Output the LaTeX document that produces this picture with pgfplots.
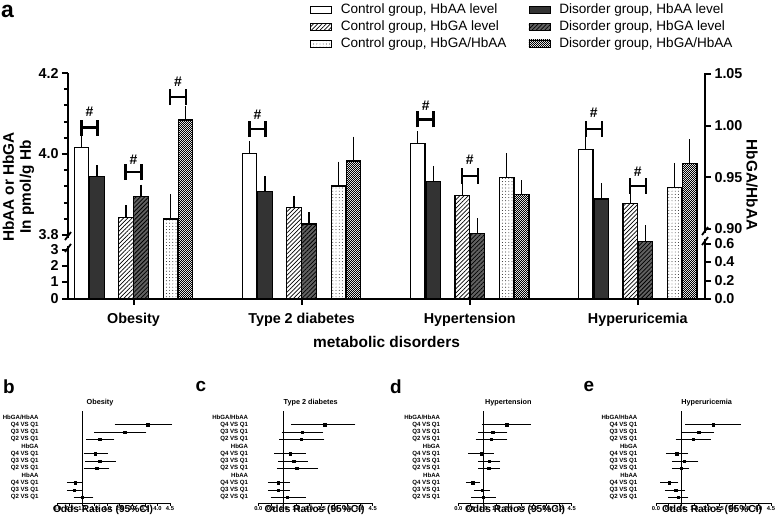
\documentclass[border=0pt]{standalone}
\usepackage{fontspec}
\setmainfont{Liberation Sans}
\usepackage{pgfplots}
\usepackage{pgfplotstable}
\pgfplotsset{compat=1.18}
\usetikzlibrary{patterns,patterns.meta}

\pgfdeclarepatternformonly{finecheck}{\pgfqpoint{0pt}{0pt}}{\pgfqpoint{2.4pt}{2.4pt}}{\pgfqpoint{2.4pt}{2.4pt}}{%
  \pgfpathrectangle{\pgfqpoint{0pt}{0pt}}{\pgfqpoint{1.2pt}{1.2pt}}%
  \pgfpathrectangle{\pgfqpoint{1.2pt}{1.2pt}}{\pgfqpoint{1.2pt}{1.2pt}}%
  \pgfusepath{fill}}

% forest plot data: row, odds ratio, lower, upper
\pgfplotstableread{
row or lo hi
11 3.60 2.39 4.49
10 2.68 1.58 3.46
9 1.69 1.25 2.18
7 1.51 1.15 1.92
6 1.69 1.21 2.23
5 1.58 1.15 1.98
3 0.71 0.48 0.92
2 0.67 0.48 0.88
1 1.00 0.75 1.34
}\tabB
\pgfplotstableread{
row or lo hi
11 2.60 1.40 3.72
10 1.73 1.02 2.45
9 1.68 0.92 2.50
7 1.25 0.72 1.77
6 1.39 0.89 1.84
5 1.52 0.83 2.25
3 0.79 0.47 1.13
2 0.79 0.47 1.13
1 1.13 0.58 1.76
}\tabC
\pgfplotstableread{
row or lo hi
11 1.92 1.03 2.78
10 1.36 0.89 1.85
9 1.31 0.79 1.85
7 0.93 0.49 1.30
6 1.23 0.89 1.56
5 1.20 0.89 1.55
3 0.57 0.40 0.77
2 0.95 0.73 1.16
1 0.99 0.62 1.38
}\tabD
\pgfplotstableread{
row or lo hi
11 2.24 1.24 3.22
10 1.66 1.10 2.18
9 1.46 0.87 2.05
7 0.81 0.48 1.16
6 1.11 0.72 1.56
5 0.98 0.72 1.20
3 0.52 0.26 0.78
2 0.76 0.44 1.04
1 0.87 0.57 1.17
}\tabE

\pgfplotsset{
  leg/.style={legend image code/.code={\draw[##1,draw=black,line width=0.8bp] (0bp,-3.5bp) rectangle (21bp,3.5bp);}},
  cA/.style={draw=black, line width=1.2bp, fill=white},
  dA/.style={draw=black, line width=1.2bp, fill=black!80},
  cG/.style={draw=black, line width=1.2bp, fill=white, postaction={pattern={Lines[angle=45,distance=3bp,line width=0.7bp]}}},
  dG/.style={draw=black, line width=1.2bp, fill=black!62, postaction={pattern={Lines[angle=45,distance=3bp,line width=0.8bp]}}},
  cR/.style={draw=black, line width=1.2bp, fill=white, postaction={pattern={Dots[distance=3.2bp,radius=0.45bp]}}},
  dR/.style={draw=black, line width=1.2bp, fill=white, postaction={pattern=finecheck}},
  topax/.style={at={(68bp,225bp)}, anchor=south west, scale only axis,
    width=637bp, height=226bp, xmin=-0.39, xmax=3.40,
    ybar, bar width=14.5bp, clip mode=individual,
    tick align=outside, major tick length=6bp, minor tick length=4bp,
    tick style={line width=2bp, black},
    axis line style={line width=2.2bp, -},
    ticklabel style={font=\fontsize{14.4}{17}\selectfont\bfseries},
    error bars/y dir=plus, error bars/y explicit,
    error bars/error bar style={line width=1.3bp, black},
    error bars/error mark options={line width=1.3bp, mark size=3.5bp, black}},
  forest/.style={anchor=south west, scale only axis, height=92bp,
    xmin=0, xmax=4.5, ymin=0.207, ymax=12.9,
    axis x line*=bottom, axis y line*=left,
    y axis line style={draw=none}, x axis line style={line width=0.9bp, -},
    xtick={0,0.5,1,1.5,2,2.5,3,3.5,4,4.5},
    xticklabels={0.0,0.5,1.0,1.5,2.0,2.5,3.0,3.5,4.0,4.5},
    xtick style={line width=0.9bp, black},
    ytick={1,2,3,4,5,6,7,8,9,10,11,12},
    yticklabels={Q2 VS Q1,Q3 VS Q1,Q4 VS Q1,HbAA,Q2 VS Q1,Q3 VS Q1,Q4 VS Q1,HbGA,Q2 VS Q1,Q3 VS Q1,Q4 VS Q1,HbGA/HbAA},
    ytick style={draw=none},
    tick align=outside, major tick length=2.5bp,
    xticklabel style={font=\fontsize{5.8}{6}\selectfont\bfseries, inner sep=0.8bp},
    yticklabel style={font=\fontsize{6.1}{7}\selectfont\bfseries, inner sep=0bp},
    clip=false},
  fplot/.style={black, only marks, mark=square*, mark size=1.3bp,
    error bars/.cd, x dir=both, x explicit,
    error bar style={line width=0.9bp},
    error mark options={line width=0.9bp, mark size=2.5bp}},
}

\newcommand\sig[3]{%
  \draw[line width=2.4bp] ([xshift=-8bp,yshift=-8bp]axis cs:#1,#2) -- ++(0bp,16bp)
    ([xshift=-8bp]axis cs:#1,#2) -- ([xshift=8bp]axis cs:#1,#2)
    ([xshift=8bp,yshift=-8bp]axis cs:#1,#2) -- ++(0bp,16bp);
  \node[font=\fontsize{14}{14}\selectfont\bfseries] at (axis cs:#1,#3) {\#};}

\begin{document}
\begin{tikzpicture}
\useasboundingbox (0bp,0bp) rectangle (777bp,524bp);

% ---------- panel a, left axis ----------
\begin{axis}[topax,
  ymin=3.642, ymax=4.2,
  axis x line*=bottom, axis y line*=left,
  xtick={0,1,2,3},
  xticklabels={Obesity,Type 2 diabetes,Hypertension,Hyperuricemia},
  xticklabel style={yshift=-5bp},
  ytick={3.642,3.6847,3.7242,3.763,3.8,4.0,4.2},
  yticklabels={0,1,2,3,3.8,4.0,4.2},
  minor ytick={3.84,3.88,3.92,3.96,4.04,4.08,4.12,4.16},
  legend columns=2, legend cell align=left,
  legend style={at={(0.375,1.323)}, anchor=north west, draw=none, fill=none,
    font=\fontsize{13.6}{16}\selectfont, row sep=1.5bp,
    /tikz/every odd column/.append style={column sep=7bp},
    /tikz/every even column/.append style={column sep=20bp}},
]
\addplot[cA, leg, bar shift=-52bp] coordinates {(0,4.016) +- (0,0.021) (1,4.002) +- (0,0.022) (2,4.026) +- (0,0.021) (3,4.012) +- (0,0.021)};
\addlegendentry{Control group, HbAA level}
\addplot[dA, leg, bar shift=-36.5bp] coordinates {(0,3.944) +- (0,0.019) (1,3.907) +- (0,0.030) (2,3.932) +- (0,0.030) (3,3.889) +- (0,0.030)};
\addlegendentry{Disorder group, HbAA level}
\addplot[cG, leg, bar shift=-7.5bp] coordinates {(0,3.844) +- (0,0.021) (1,3.867) +- (0,0.021) (2,3.897) +- (0,0.021) (3,3.877) +- (0,0.020)};
\addlegendentry{Control group, HbGA level}
\addplot[dG, leg, bar shift=7.5bp] coordinates {(0,3.896) +- (0,0.020) (1,3.827) +- (0,0.020) (2,3.803) +- (0,0.030) (3,3.783) +- (0,0.032)};
\addlegendentry{Disorder group, HbGA level}
\addlegendimage{cR, leg}
\addlegendentry{Control group, HbGA/HbAA}
\addlegendimage{dR, leg}
\addlegendentry{Disorder group, HbGA/HbAA}
% axis break
\fill[white] ([xshift=-3bp]axis cs:-0.39,3.7735) rectangle ([xshift=3bp]axis cs:-0.39,3.7920);
\draw[line width=1.8bp] ([xshift=-3bp,yshift=-4bp]axis cs:-0.39,3.7975) -- ++(6bp,8bp);
\draw[line width=1.8bp] ([xshift=-3bp,yshift=-4bp]axis cs:-0.39,3.768) -- ++(6bp,8bp);
% significance
\sig{-0.262}{4.0654}{4.1037}
\sig{0}{3.9556}{3.985}
\sig{0.265}{4.1407}{4.1778}
\sig{0.738}{4.0617}{4.0963}
\sig{1.738}{4.0852}{4.1185}
\sig{2}{3.9457}{3.9852}
\sig{2.738}{4.0617}{4.1012}
\sig{3}{3.921}{3.9556}
\end{axis}

% ---------- panel a, right axis ----------
\begin{axis}[topax,
  ymin=0.8322, ymax=1.051,
  axis x line=none, axis y line*=right,
  ytick={0.8322,0.8501,0.8680,0.8859,0.90,0.95,1.00,1.05},
  yticklabels={0.0,0.2,0.4,0.6,0.90,0.95,1.00,1.05},
]
\addplot[cR, bar shift=37bp] coordinates {(0,0.9096) +- (0,0.0206) (1,0.9416) +- (0,0.0203) (2,0.950) +- (0,0.0199) (3,0.9403) +- (0,0.0203)};
\addplot[dR, bar shift=52bp] coordinates {(0,1.0055) +- (0,0.0104) (1,0.9658) +- (0,0.0203) (2,0.9335) +- (0,0.0103) (3,0.9636) +- (0,0.0199)};
\fill[white] ([xshift=-3bp]axis cs:3.40,0.8903) rectangle ([xshift=3bp]axis cs:3.40,0.8961);
\draw[line width=1.8bp] ([xshift=-3bp,yshift=-4bp]axis cs:3.40,0.8980) -- ++(6bp,8bp);
\draw[line width=1.8bp] ([xshift=-3bp,yshift=-4bp]axis cs:3.40,0.8883) -- ++(6bp,8bp);
\end{axis}

\node[font=\fontsize{23}{23}\selectfont\bfseries] at (7.5bp,512.5bp) {a};
\node[rotate=90, align=center, font=\fontsize{15.4}{17}\selectfont\bfseries] at (18.5bp,337bp) {HbAA or HbGA\\In pmol/g Hb};
\node[rotate=-90, font=\fontsize{15.4}{17}\selectfont\bfseries] at (752bp,339bp) {HbGA/HbAA};
\node[font=\fontsize{15.5}{17}\selectfont\bfseries] at (386.5bp,182.3bp) {metabolic disorders};

% ---------- panels b-e ----------
\begin{axis}[forest, at={(57.3bp,21bp)}, width=112.7bp, yticklabel style={xshift=-16bp}]
\draw[line width=1bp] (axis cs:1,0.207) -- (axis cs:1,12.9);
\addplot[fplot] table[x=or, y=row, x error plus expr=\thisrow{hi}-\thisrow{or}, x error minus expr=\thisrow{or}-\thisrow{lo}] {\tabB};
\end{axis}
\begin{axis}[forest, at={(258.3bp,21bp)}, width=114.4bp, yticklabel style={xshift=-7.5bp}]
\draw[line width=1bp] (axis cs:1,0.207) -- (axis cs:1,12.9);
\addplot[fplot] table[x=or, y=row, x error plus expr=\thisrow{hi}-\thisrow{or}, x error minus expr=\thisrow{or}-\thisrow{lo}] {\tabC};
\end{axis}
\begin{axis}[forest, at={(458.3bp,21bp)}, width=113.4bp, yticklabel style={xshift=-15.5bp}]
\draw[line width=1bp] (axis cs:1,0.207) -- (axis cs:1,12.9);
\addplot[fplot] table[x=or, y=row, x error plus expr=\thisrow{hi}-\thisrow{or}, x error minus expr=\thisrow{or}-\thisrow{lo}] {\tabD};
\end{axis}
\begin{axis}[forest, at={(656bp,21bp)}, width=115bp, yticklabel style={xshift=-16bp}]
\draw[line width=1bp] (axis cs:1,0.207) -- (axis cs:1,12.9);
\addplot[fplot] table[x=or, y=row, x error plus expr=\thisrow{hi}-\thisrow{or}, x error minus expr=\thisrow{or}-\thisrow{lo}] {\tabE};
\end{axis}

\begin{scope}[every node/.style={font=\fontsize{7.3}{8}\selectfont\bfseries}]
\node at (100bp,121bp) {Obesity};
\node at (310.7bp,121bp) {Type 2 diabetes};
\node at (508.3bp,121bp) {Hypertension};
\node at (706.7bp,121bp) {Hyperuricemia};
\end{scope}
\begin{scope}[every node/.style={font=\fontsize{10.2}{11}\selectfont\bfseries}]
\node at (103bp,14bp) {Odds Ratios (95\%CI)};
\node at (314.5bp,14bp) {Odds Ratios (95\%CI)};
\node at (515bp,14bp) {Odds Ratios (95\%CI)};
\node at (712bp,14bp) {Odds Ratios (95\%CI)};
\end{scope}
\begin{scope}[every node/.style={font=\fontsize{19}{19}\selectfont\bfseries}]
\node at (9bp,137bp) {b};
\node at (201bp,137bp) {c};
\node at (396bp,137bp) {d};
\node at (589bp,137bp) {e};
\end{scope}
\end{tikzpicture}
\end{document}
